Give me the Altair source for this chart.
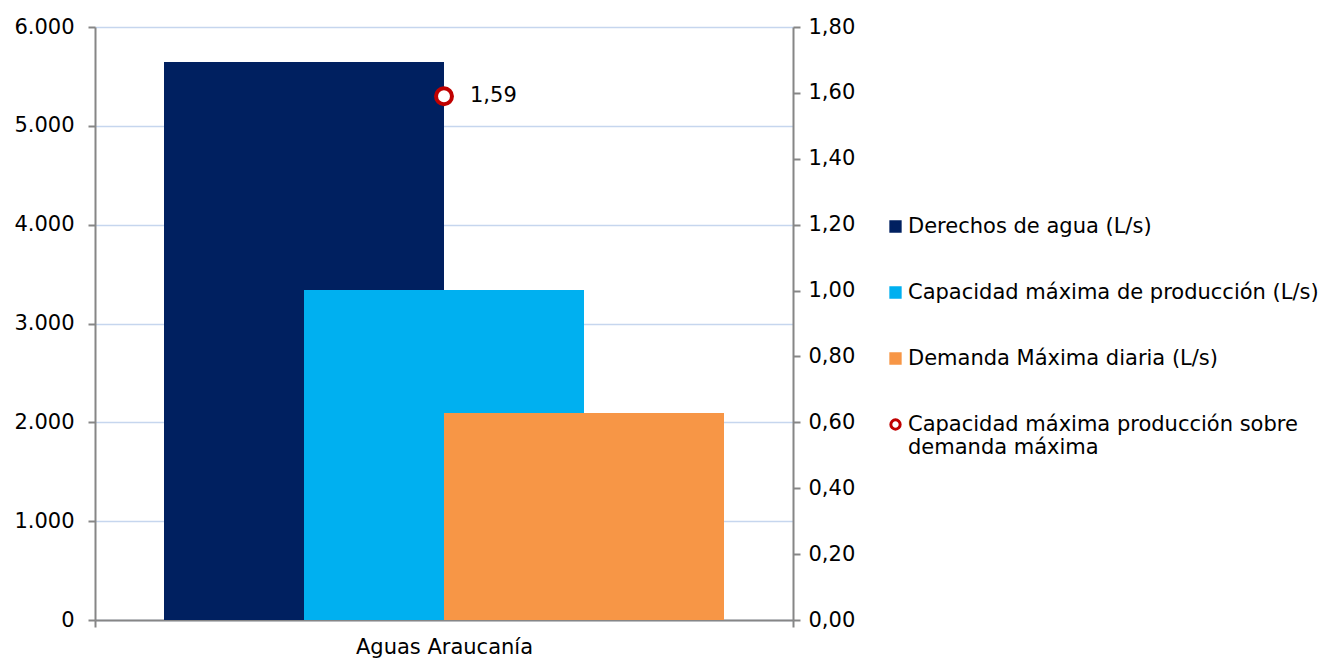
import altair as alt
import pandas as pd

# ---- data ----
categoria = ["Aguas Araucanía"]
series = [
    "Derechos de agua (L/s)",
    "Capacidad máxima de producción (L/s)",
    "Demanda Máxima diaria (L/s)",
]
valores = [5645, 3340, 2095]
serie_ratio = "Capacidad máxima producción sobre demanda máxima"
ratio = [1.59]
ticks_izq = [0, 1000, 2000, 3000, 4000, 5000, 6000]
ticks_der = [0.0, 0.2, 0.4, 0.6, 0.8, 1.0, 1.2, 1.4, 1.6, 1.8]

colores = ["#002060", "#00B0F0", "#F79646"]
color_ratio = "#C00000"

bars_df = pd.DataFrame({"empresa": categoria * len(series), "serie": series, "valor": valores})
ratio_df = pd.DataFrame({"empresa": categoria, "serie": [serie_ratio], "ratio": ratio})

FONT = "DejaVu Sans"
FS = 21
GRAY = "#868686"
all_series = series + [serie_ratio]

x_enc = alt.X(
    "empresa:N",
    title=None,
    scale=alt.Scale(paddingInner=0, paddingOuter=0),
    axis=alt.Axis(
        labelAngle=0, tickBand="extent", domainColor=GRAY, domainWidth=2,
        tickColor=GRAY, tickWidth=2, tickSize=7, labelPadding=9,
        labelFontSize=FS, labelFont=FONT, labelColor="#000000", grid=False,
    ),
)

bars = alt.Chart(bars_df).mark_bar(size=280).encode(
    x=x_enc,
    xOffset=alt.XOffset(
        "serie:N", sort=series,
        scale=alt.Scale(domain=series, paddingInner=0, paddingOuter=0.9929),
    ),
    y=alt.Y(
        "valor:Q", title=None,
        scale=alt.Scale(domain=[0, 6000], nice=False),
        axis=alt.Axis(
            values=ticks_izq,
            labelExpr="replace(format(datum.value, ','), /,/g, '.')",
            grid=True, gridColor="#C6D6EE", gridWidth=1.5,
            domainColor=GRAY, domainWidth=2, tickColor=GRAY, tickWidth=2,
            tickSize=7, labelPadding=14, labelFontSize=FS, labelFont=FONT,
            labelColor="#000000",
        ),
    ),
    color=alt.Color("serie:N", scale=alt.Scale(domain=series, range=colores), legend=None),
    order=alt.Order("orden:Q"),
).transform_calculate(orden="indexof(" + str(series).replace("'", '"') + ", datum.serie)")

leg = alt.Legend(
    title=None, orient="none", legendX=790, legendY=189, padding=0,
    labelFont=FONT, labelFontSize=FS, labelColor="#000000", labelLimit=600,
    labelOffset=2, rowPadding=43, symbolSize=87, symbolStrokeWidth=3,
    symbolOpacity=1, labelBaseline="middle",
    labelExpr="datum.label == '" + serie_ratio + "' ? ['Capacidad máxima producción sobre', 'demanda máxima'] : datum.label",
)

axis_der = alt.Axis(
    orient="right", values=ticks_der,
    labelExpr="replace(format(datum.value, '.2f'), '.', ',')",
    grid=False, domainColor=GRAY, domainWidth=2, tickColor=GRAY,
    tickWidth=2, tickSize=7, labelPadding=8, labelFontSize=FS,
    labelFont=FONT, labelColor="#000000",
)
y_der = dict(title=None, scale=alt.Scale(domain=[0, 1.8], nice=False), axis=axis_der)

point = alt.Chart(ratio_df).mark_point(size=254, strokeWidth=4, filled=True, opacity=1).encode(
    x=alt.X("empresa:N"),
    y=alt.Y("ratio:Q", **y_der),
    fill=alt.Fill("serie:N", scale=alt.Scale(domain=all_series, range=colores + ["#FFFFFF"]), legend=leg),
    stroke=alt.Stroke("serie:N", scale=alt.Scale(domain=all_series, range=colores + [color_ratio]), legend=leg),
    shape=alt.Shape("serie:N", scale=alt.Scale(domain=all_series, range=["square"] * 3 + ["circle"]), legend=leg),
)

label = alt.Chart(ratio_df).transform_calculate(
    etiqueta="replace(format(datum.ratio, '.2f'), '.', ',')"
).mark_text(align="left", baseline="middle", dx=26, fontSize=FS, font=FONT, color="#000000").encode(
    x=alt.X("empresa:N"),
    y=alt.Y("ratio:Q", **y_der),
    text="etiqueta:N",
)

chart = alt.layer(bars, alt.layer(point, label)).resolve_scale(y="independent").properties(
    width=698, height=593,
    padding={"left": 87, "top": 19, "right": 529, "bottom": 40},
    autosize=alt.AutoSizeParams(type="none"),
).configure_view(stroke=None).configure(font=FONT)

chart.save("out.html", embed_options={"renderer": "svg", "actions": False})
